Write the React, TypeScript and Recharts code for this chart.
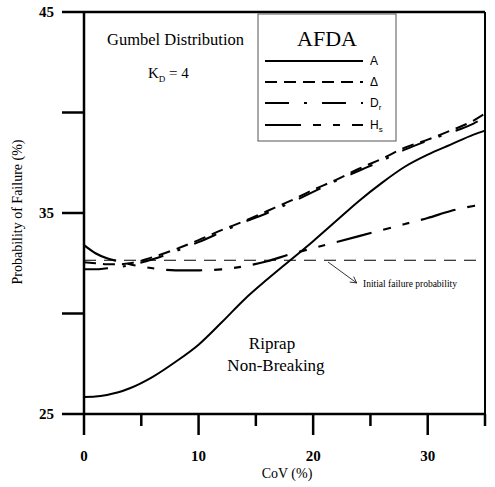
import React from 'react';
import { LineChart, Line, XAxis, YAxis, ReferenceLine } from 'recharts';

// CoV (%) sample points and the probability of failure (%) for each AFDA case
const covPct = [0, 1, 2, 3, 4, 6, 8, 10, 12, 14, 16, 18, 20, 22, 24, 26, 28, 30, 32, 34, 35];
const pfA = [25.85, 25.87, 25.95, 26.08, 26.28, 26.85, 27.6, 28.45, 29.55, 30.7, 31.7, 32.65, 33.6, 34.6, 35.6, 36.5, 37.3, 37.9, 38.4, 38.9, 39.1];
const pfDelta = [32.55, 32.5, 32.45, 32.45, 32.5, 32.8, 33.2, 33.65, 34.15, 34.6, 35.1, 35.6, 36.15, 36.65, 37.2, 37.7, 38.25, 38.65, 39.1, 39.6, 39.95];
const pfDr = [32.2, 32.2, 32.25, 32.3, 32.4, 32.7, 33.1, 33.55, 34.05, 34.55, 35.0, 35.5, 36.05, 36.6, 37.1, 37.6, 38.15, 38.6, 39.0, 39.45, 39.75];
const pfHs = [33.4, 33.0, 32.75, 32.6, 32.45, 32.25, 32.15, 32.15, 32.2, 32.35, 32.6, 32.95, 33.25, 33.55, 33.85, 34.15, 34.45, 34.75, 35.1, 35.35, 35.45];
const initialPf = 32.65;

const xTicks = [0, 5, 10, 15, 20, 25, 30, 35];
const xLabelled = [0, 10, 20, 30];
const yTicks = [25, 30, 35, 40, 45];
const yLabelled = [25, 35, 45];

const data = covPct.map((c, i) => ({
  cov: c,
  A: pfA[i],
  Delta: pfDelta[i],
  Dr: pfDr[i],
  Hs: pfHs[i],
}));

const dashDelta = '12 7';
const dashDr = '24 15 3 15';
const dashHs = '36 12 8 12 7 12';

const serif = '"Liberation Serif", "Times New Roman", serif';
const sans = '"Liberation Sans", Arial, sans-serif';

const XTick: React.FC<any> = ({ x, y, payload }) => {
  const major = xLabelled.includes(payload.value);
  return (
    <g>
      <line x1={x} x2={x} y1={y} y2={y + (major ? 21 : 12)} stroke="#000" strokeWidth={2.5} />
      {major && (
        <text x={x} y={y + 47} textAnchor="middle" fontFamily={serif} fontWeight="bold" fontSize={15} fill="#000">
          {payload.value}
        </text>
      )}
    </g>
  );
};

const YTick: React.FC<any> = ({ x, y, payload }) => {
  const shown = yLabelled.includes(payload.value);
  return (
    <g>
      <line x1={x - 22} x2={x} y1={y} y2={y} stroke="#000" strokeWidth={2.5} />
      {shown && (
        <text x={x - 30} y={y + 5} textAnchor="end" fontFamily={serif} fontWeight="bold" fontSize={15} fill="#000">
          {payload.value}
        </text>
      )}
    </g>
  );
};

// leader from the initial-probability line to its note
const Arrow = (props: any) => {
  const { x1, y1, x2, y2 } = props;
  const ang = Math.atan2(y2 - y1, x2 - x1);
  const h = 7;
  const a1 = ang + Math.PI - 0.5;
  const a2 = ang + Math.PI + 0.5;
  return (
    <g>
      <line x1={x1} y1={y1} x2={x2} y2={y2} stroke="#000" strokeWidth={0.8} />
      <polyline
        points={`${x2 + h * Math.cos(a1)},${y2 + h * Math.sin(a1)} ${x2},${y2} ${x2 + h * Math.cos(a2)},${y2 + h * Math.sin(a2)}`}
        fill="none"
        stroke="#000"
        strokeWidth={0.8}
      />
    </g>
  );
};

const legendRows = [
  { key: 'A', dash: undefined, y: 61 },
  { key: 'Delta', dash: dashDelta, y: 82 },
  { key: 'Dr', dash: dashDr, y: 103 },
  { key: 'Hs', dash: dashHs, y: 125 },
];

const Overlay: React.FC = () => (
  <svg width={495} height={487} style={{ position: 'absolute', left: 0, top: 0, pointerEvents: 'none' }}>
    <text x={107} y={45} fontFamily={serif} fontSize={16.5} fill="#000">Gumbel Distribution</text>
    <text x={148} y={78} fontFamily={serif} fontSize={15} fill="#000">
      K<tspan fontSize={9} dy={4}>D</tspan><tspan dy={-4}> = 4</tspan>
    </text>
    <text x={272} y={349} textAnchor="middle" fontFamily={serif} fontSize={17} fill="#000">Riprap</text>
    <text x={276} y={371} textAnchor="middle" fontFamily={serif} fontSize={17} fill="#000">Non-Breaking</text>
    <text x={363} y={287} fontFamily={serif} fontSize={9.5} fill="#000">Initial failure probability</text>

    <text transform="translate(22,212) rotate(-90)" textAnchor="middle" fontFamily={serif} fontSize={14} fill="#000">
      Probability of Failure (%)
    </text>
    <text x={287} y={478} textAnchor="middle" fontFamily={serif} fontSize={14} fill="#000">CoV (%)</text>

    <rect x={258} y={14} width={138} height={127} fill="#fff" stroke="#555" strokeWidth={1} />
    <text x={327} y={46} textAnchor="middle" fontFamily={serif} fontSize={22} fill="#000">AFDA</text>
    {legendRows.map(r => (
      <line key={r.key} x1={265} x2={363} y1={r.y} y2={r.y} stroke="#000" strokeWidth={2} strokeDasharray={r.dash} />
    ))}
    <text x={370} y={65} fontFamily={sans} fontSize={12} fill="#000">A</text>
    <text x={370} y={86} fontFamily={sans} fontSize={12} fill="#000">Δ</text>
    <text x={370} y={107} fontFamily={sans} fontSize={12} fill="#000">
      D<tspan fontSize={8} dy={3}>r</tspan>
    </text>
    <text x={370} y={129} fontFamily={sans} fontSize={12} fill="#000">
      H<tspan fontSize={8} dy={3}>s</tspan>
    </text>
  </svg>
);

export default function App() {
  return (
    <div style={{ position: 'absolute', left: 0, top: 0, width: 495, height: 487, background: '#fff' }}>
      <LineChart width={495} height={487} data={data} margin={{ top: 12, right: 10, left: 24, bottom: 23 }}>
        <XAxis
          dataKey="cov"
          type="number"
          domain={[0, 35]}
          ticks={xTicks}
          tick={<XTick />}
          tickSize={0}
          tickMargin={0}
          tickLine={false}
          height={50}
          stroke="#000"
          strokeWidth={2.5}
          interval={0}
        />
        <YAxis
          type="number"
          domain={[25, 45]}
          ticks={yTicks}
          tick={<YTick />}
          tickSize={0}
          tickMargin={0}
          tickLine={false}
          width={60}
          stroke="#000"
          strokeWidth={2.5}
          interval={0}
        />
        <ReferenceLine y={45} stroke="#000" strokeWidth={2.5} />
        <ReferenceLine x={35} stroke="#000" strokeWidth={2} />
        <ReferenceLine y={initialPf} stroke="#000" strokeWidth={1.2} strokeDasharray="12 8" />
        <ReferenceLine
          segment={[{ x: 21.3, y: 32.56 }, { x: 23.8, y: 31.52 }]}
          shape={Arrow}
        />
        <Line type="monotone" dataKey="A" stroke="#000" strokeWidth={2} dot={false} isAnimationActive={false} />
        <Line type="monotone" dataKey="Delta" stroke="#000" strokeWidth={2} strokeDasharray={dashDelta} dot={false} isAnimationActive={false} />
        <Line type="monotone" dataKey="Dr" stroke="#000" strokeWidth={2} strokeDasharray={dashDr} dot={false} isAnimationActive={false} />
        <Line type="monotone" dataKey="Hs" stroke="#000" strokeWidth={2.2} strokeDasharray={dashHs} dot={false} isAnimationActive={false} />
      </LineChart>
      <Overlay />
    </div>
  );
}
